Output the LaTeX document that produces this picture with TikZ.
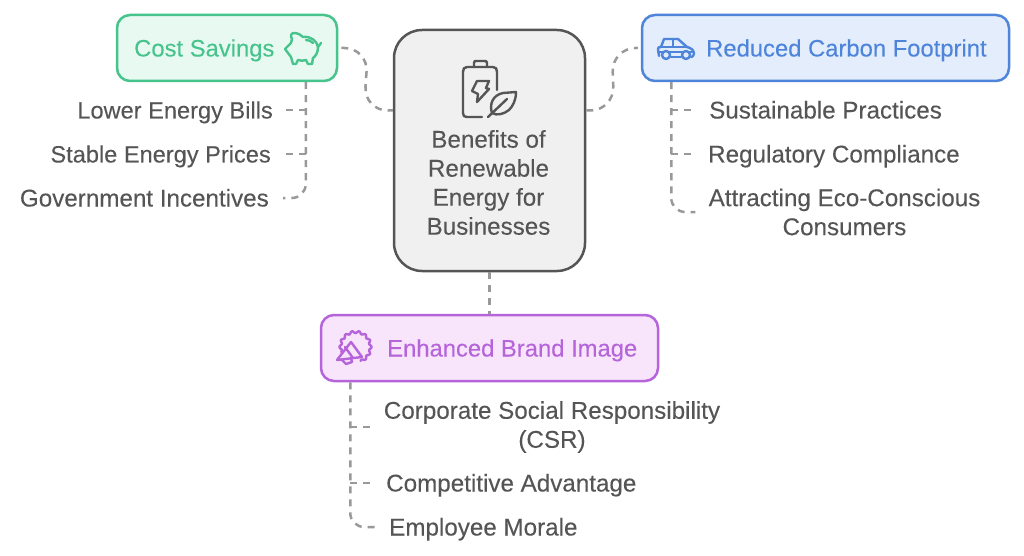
\documentclass[tikz,border=0pt]{standalone}
\usepackage{fontspec}
\setmainfont{Liberation Sans}[FakeBold=0.12]
\usetikzlibrary{calc}
\definecolor{gfill}{HTML}{E8F9F1}\definecolor{gline}{HTML}{46C48C}
\definecolor{bfill}{HTML}{E3EDFC}\definecolor{bline}{HTML}{4E85DA}
\definecolor{pfill}{HTML}{F8E5FC}\definecolor{pline}{HTML}{B564D9}
\definecolor{cfill}{HTML}{F0F0F0}\definecolor{cline}{HTML}{555555}
\definecolor{lnk}{HTML}{999999}\definecolor{txt}{HTML}{555555}
\tikzset{
 box/.style={draw=#1,line width=2.5pt,rounded corners=13pt,inner sep=0pt},
 head/.style={font=\fontsize{23.8}{29}\selectfont,text=#1,inner sep=0pt,text height=17pt,text depth=0pt},
 item/.style={font=\fontsize{24.2}{29}\selectfont,text=txt,inner sep=0pt,align=center},
 single/.style={item,text height=17pt,text depth=0pt},
 narrow/.style={single,font=\fontsize{23.6}{29}\selectfont},
 link/.style={draw=lnk,line width=2.5pt,dash pattern=on 7pt off 6pt},
 icon/.style={draw=#1,line width=2.4pt,line join=round,line cap=round},
}
\begin{document}
\begin{tikzpicture}[x=1pt,y=-1pt]
\useasboundingbox (0,0) rectangle (1024,556);
\fill[white] (0,0) rectangle (1024,556);
% boxes
\node[box=gline,fill=gfill,minimum width=220pt,minimum height=66pt] (cost) at (227,48) {};
\node[box=bline,fill=bfill,minimum width=367pt,minimum height=66pt] (carbon) at (825.5,48) {};
\node[box=pline,fill=pfill,minimum width=337pt,minimum height=66pt] (brand) at (489.5,348) {};
\node[box=cline,fill=cfill,rounded corners=28pt,minimum width=191pt,minimum height=241pt] (hub) at (489.5,150.5) {};
% titles
\node[head=gline,anchor=west] (costT) at (134,48) {Cost Savings};
\node[head=bline,anchor=west] (carbonT) at (706,48) {Reduced Carbon Footprint};
\node[head=pline,anchor=west] (brandT) at (387,348) {Enhanced Brand Image};
\node[item] (hubT) at (488.5,182.5) {Benefits of\\Renewable\\Energy for\\Businesses};
% items
\node[narrow,anchor=east] (c1) at (273,110) {Lower Energy Bills};
\node[narrow,anchor=east] (c2) at (271,154) {Stable Energy Prices};
\node[single,anchor=east] (c3) at (269,198) {Government Incentives};
\node[single,anchor=west] (r1) at (709,110) {Sustainable Practices};
\node[single,anchor=west] (r2) at (708,154) {Regulatory Compliance};
\node[item] (r3) at (844.5,212) {Attracting Eco-Conscious\\Consumers};
\node[item] (b1) at (552,427) {Corporate Social Responsibility\\(CSR)};
\node[single,anchor=west] (b2) at (386,483) {Competitive Advantage};
\node[single,anchor=west] (b3) at (389,527) {Employee Morale};
% connectors
\coordinate (costTrunk) at ($(cost.south west)+(190,0)$);
\coordinate (carbonTrunk) at ($(carbon.south west)+(30.5,0)$);
\coordinate (brandTrunk) at ($(brand.south west)+(30.5,0)$);
\draw[link,rounded corners=24pt] ([xshift=3pt]cost.east) -- ++(27,0) -- ($(hub.west)+(-29,-40)$) -- ($(hub.west)+(0,-40)$);
\draw[link,rounded corners=24pt] ($(hub.east)+(0,-40)$) -- ($(hub.east)+(28,-40)$) -- ($(carbon.west)+(-29,0)$) -- ([xshift=-3pt]carbon.west);
\draw[link] (hub.south) -- (brand.north);
\draw[link,rounded corners=14pt] (costTrunk) -- (costTrunk |- c3) -- ([xshift=14pt]c3.east);
\draw[link] (costTrunk |- c1) -- ([xshift=12pt]c1.east);
\draw[link] (costTrunk |- c2) -- ([xshift=14pt]c2.east);
\draw[link,rounded corners=14pt] (carbonTrunk) -- (carbonTrunk |- r3) -- ($(carbonTrunk |- r3)+(24,0)$);
\draw[link] (carbonTrunk |- r1) -- ([xshift=-14pt]r1.west);
\draw[link] (carbonTrunk |- r2) -- ([xshift=-13pt]r2.west);
\draw[link,rounded corners=14pt] (brandTrunk) -- (brandTrunk |- b3) -- ([xshift=-14pt]b3.west);
\draw[link] (brandTrunk |- b1) -- ($(brandTrunk |- b1)+(22,0)$);
\draw[link] (brandTrunk |- b2) -- ([xshift=-13pt]b2.west);
% piggy icon
\begin{scope}[icon=gline]
\draw (292,39) .. controls (290,36) and (291,33) .. (294,33) .. controls (298,33) and (301,35) .. (303,37) .. controls (311,36) and (317,41) .. (318,47) .. controls (318,52) and (316,56) .. (313,58) -- (312,64) -- (308,64) -- (306,60) .. controls (303,61) and (301,61) .. (298,60) -- (296,64) -- (293,64) -- (291,57) -- (285,49) -- (291,43) -- cycle;
\draw (318,47) -- (321,43);
\draw (306,40) .. controls (309,40) and (311,41) .. (313,43);
\end{scope}
% battery and leaf icon
\begin{scope}[icon=cline]
\draw (497,90) -- (497,72) .. controls (497,69) and (496,67) .. (493,67) -- (467,67) .. controls (464,67) and (463,69) .. (463,72) -- (463,113) .. controls (463,116) and (464,117) .. (467,117) -- (482,117);
\draw (474,67) -- (474,63) .. controls (474,61) and (475,61) .. (476,61) -- (484,61) .. controls (486,61) and (487,61) .. (487,63) -- (487,67);
\draw (477,81) -- (489,81) -- (486,88) -- (489,89) -- (477,102) -- (478,94) -- (472,91) -- cycle;
\draw (488,117) -- (507,99);
\draw (492,113) .. controls (489,104) and (493,95) .. (503,93) -- (516,92) .. controls (516,100) and (513,106) .. (509,110) .. controls (504,114) and (497,116) .. (492,113) -- cycle;
\end{scope}
% car icon
\begin{scope}[icon=bline]
\draw (659,56) -- (658,49) .. controls (658,47) and (659,47) .. (661,47) -- (664,39) -- (678,39) -- (687,47) .. controls (691,48) and (694,50) .. (694,54) .. controls (694,56) and (692,57) .. (691,57);
\draw (661,47) -- (687,47);
\draw (673,39) -- (673,47);
\draw (658,52) -- (692,52);
\draw (671,57) -- (681,57);
\draw[fill=bfill] (666,55) circle[radius=4pt];
\draw[fill=bfill] (686,55) circle[radius=4pt];
\end{scope}
% megaphone icon
\begin{scope}[icon=pline]
\draw[smooth,samples=90,domain=-200:70] plot ({355.5+(15+1.1*cos(14*\x))*cos(\x)},{347+(15+1.1*cos(14*\x))*sin(\x)});
\draw (351,342) -- (362,357) -- (337,360) -- cycle;
\draw (345,347) -- (353,358);
\draw (342,360) -- (346,364) -- (352,362) -- (351,358);
\end{scope}
\end{tikzpicture}
\end{document}
